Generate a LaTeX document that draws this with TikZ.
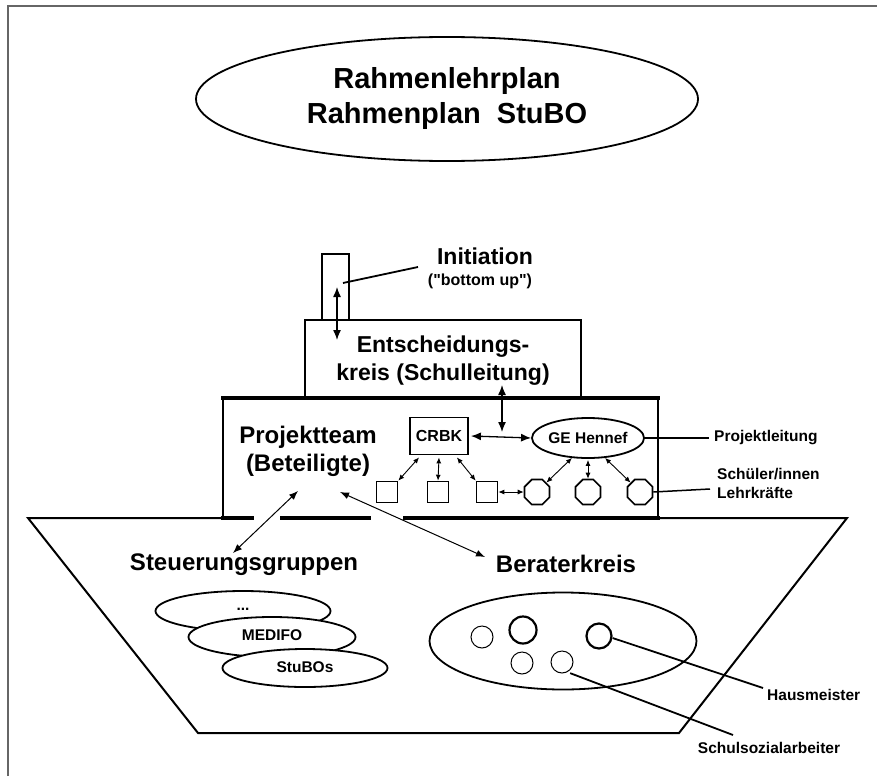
\documentclass[tikz,border=0pt]{standalone}
\usepackage{fontspec}
\setmainfont{Liberation Sans}
\newfontfamily\rawsans{Liberation Sans}
\usetikzlibrary{shapes.geometric,arrows.meta}
\begin{document}
\begin{tikzpicture}[x=1pt,y=-1pt,
  line/.style={line width=2pt, line join=miter},
  thickline/.style={line width=4pt},
  bigtxt/.style={font=\fontsize{24}{28}\selectfont\bfseries, inner sep=0, align=center},
  smalltxt/.style={font=\fontsize{15.5}{19}\selectfont\bfseries, inner sep=0, align=left},
  dblbig/.style={line width=1.3pt, {Latex[length=10pt,width=8pt]}-{Latex[length=10pt,width=8pt]}},
  dblmid/.style={line width=1pt, {Latex[length=9pt,width=7pt]}-{Latex[length=9pt,width=7pt]}},
  dblsmall/.style={line width=0.9pt, {Latex[length=6pt,width=5pt]}-{Latex[length=6pt,width=5pt]}},
  sq/.style={draw, line width=1.6pt, rectangle, minimum size=21pt, inner sep=0},
  oct/.style={draw, line width=1.6pt, regular polygon, regular polygon sides=8, minimum size=27pt, inner sep=0},
  ell/.style={draw, line width=1.8pt, ellipse, inner sep=0, fill=white},
  thincirc/.style={draw, circle, line width=1pt, inner sep=0},
  thickcirc/.style={draw, circle, line width=2.2pt, inner sep=0},
  pointer/.style={line width=1.8pt}
]
\useasboundingbox (0,0) rectangle (877,776);
% frame
\draw[black!60, line width=2pt] (8,776) -- (8,6) -- (877,6);

% title ellipse
\node[ell, minimum width=502pt, minimum height=124pt, font=\fontsize{29}{35}\selectfont\bfseries, align=center] (rahmen) at (447,99) {Rahmenlehrplan\\Rahmenplan\ \ StuBO};

% chimney
\draw[line] (322,320) -- (322,254) -- (349,254) -- (349,320);
\coordinate (chim) at (343,283);
\coordinate (chtop) at (337,287);
\coordinate (chbot) at (337,340);
% Entscheidungskreis box
\node[draw, line width=2pt, rectangle, minimum width=276pt, minimum height=78pt, inner sep=0] (entsch) at (443,359) {};
\node[bigtxt, font=\fontsize{23}{28}\selectfont\bfseries] (entschtxt) at (443,361) {Entscheidungs-\\kreis (Schulleitung)};

% Initiation labels
\node[bigtxt, font=\fontsize{23}{28}\selectfont\bfseries] (init) at (485,256) {Initiation};
\node[smalltxt, font=\rawsans\fontsize{16}{19}\selectfont\bfseries] (bottomup) at (480,281) {("bottom up")};
\coordinate (initline) at (418,267);
\draw[pointer] (chim) -- (initline);
\draw[dblbig] (chtop) -- (chbot);

% Projektteam box
\draw[line] (223,518) -- (223,398);
\draw[line] (658,518) -- (658,398);
\draw[thickline] (221,398) -- (660,398);
\node[bigtxt] (projtxt) at (308,451) {Projektteam\\(Beteiligte)};

% trapezoid
\draw[line] (223,518) -- (28,518) -- (198,733) -- (679,733) -- (847,518) -- (658,518);
\draw[thickline] (221,518) -- (254,518);
\draw[thickline] (280,518) -- (371,518);
\draw[thickline] (403,518) -- (660,518);

% CRBK and GE Hennef
\node[draw, line width=1.8pt, rectangle, minimum width=58pt, minimum height=37pt, inner sep=0, font=\fontsize{16}{19}\selectfont\bfseries] (crbk) at (439,436) {CRBK};
\node[ell, minimum width=104pt, minimum height=40pt, font=\fontsize{15.5}{19}\selectfont\bfseries] (ge) at (588,438) {GE Hennef};
\coordinate (hmid) at (502,432);
\coordinate (entschbot) at (502,385);
\draw[dblbig] (crbk.east) ++(2,0) coordinate (crbkE) -- (ge.west);
\draw[dblbig] (entschbot) -- (hmid);

% squares and octagons
\node[sq] (s1) at (387,492) {};
\node[sq] (s2) at (438,492) {};
\node[sq] (s3) at (487,492) {};
\node[oct] (o1) at (537,492) {};
\node[oct] (o2) at (588,492) {};
\node[oct] (o3) at (640,492) {};
\draw[dblsmall] (crbk.south west) ++(10,2) coordinate (c1) -- (s1.north east);
\draw[dblsmall] (crbk.south) ++(0,2) coordinate (c2) -- (s2.north);
\draw[dblsmall] (crbk.south east) ++(-12,2) coordinate (c3) -- (s3.north west);
\draw[dblsmall] (s3.east) -- (o1.west);
\draw[dblsmall] (ge.south) ++(-16,-1) coordinate (g1) -- (o1.north east);
\draw[dblsmall] (ge.south) ++(0,1) coordinate (g2) -- (o2.north);
\draw[dblsmall] (ge.south) ++(17,-1) coordinate (g3) -- (o3.north west);

% right labels
\node[smalltxt, anchor=west] (pl) at (714,438) {Projektleitung};
\coordinate (plend) at (709,438);
\draw[pointer, line width=1.5pt] (ge.east) -- (plend);
\node[smalltxt, anchor=west] (sl) at (717,483) {Schüler/innen\\Lehrkräfte};
\coordinate (slend) at (710,489);
\draw[pointer, line width=1.5pt] (o3.east) -- (slend);

% lower labels
\node[bigtxt] (steuer) at (244,565) {Steuerungsgruppen};
\node[bigtxt] (berater) at (566,564) {Beraterkreis};
\coordinate (pt1) at (298,491);
\coordinate (st1) at (233,553);
\coordinate (pt2) at (340,492);
\coordinate (be1) at (485,557);
\draw[dblmid] (pt1) -- (st1);
\draw[dblmid] (pt2) -- (be1);

% Steuerungsgruppen ellipses
\node[ell, minimum width=175pt, minimum height=40pt, font=\fontsize{15.5}{19}\selectfont\bfseries] (e1) at (243,611) {\raisebox{3pt}{...}};
\node[ell, minimum width=167pt, minimum height=40pt, font=\fontsize{15.5}{19}\selectfont\bfseries] (e2) at (272,637) {\raisebox{4pt}{MEDIFO}};
\node[ell, minimum width=165pt, minimum height=38pt, font=\fontsize{15.5}{19}\selectfont\bfseries] (e3) at (305,668) {\raisebox{2pt}{StuBOs}};

% Beraterkreis ellipse and circles
\node[ell, fill=none, minimum width=267pt, minimum height=97pt] (bk) at (563,641) {};
\node[thincirc, minimum size=22pt] (k1) at (482,637) {};
\node[thickcirc, minimum size=27pt] (k2) at (523,630) {};
\node[thickcirc, minimum size=25pt] (k3) at (599,636) {};
\node[thincirc, minimum size=22pt] (k4) at (522,663) {};
\node[thincirc, minimum size=22pt] (k5) at (562,662) {};

\node[smalltxt, anchor=west] (haus) at (767,695) {Hausmeister};
\node[smalltxt] (schul) at (769,748) {Schulsozialarbeiter};
\coordinate (hausend) at (763,688);
\coordinate (schulend) at (733,735);
\draw[pointer] (k3.east) ++(0,2) coordinate (k3e) -- (hausend);
\draw[pointer] (k5.south east) ++(0,3) coordinate (k5e) -- (schulend);
\end{tikzpicture}
\end{document}
